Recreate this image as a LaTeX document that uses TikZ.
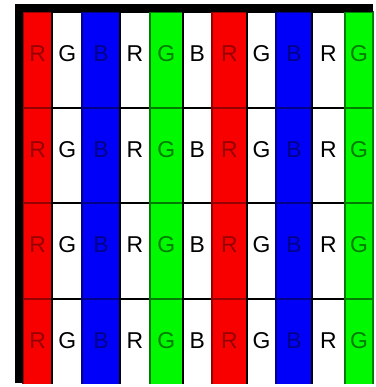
\documentclass[tikz,border=0pt]{standalone}
\usepackage{fontspec}
\setsansfont{Liberation Sans}
\usepackage{xcolor}
\definecolor{pixRed}{HTML}{F80000}
\definecolor{pixGreen}{HTML}{00F800}
\definecolor{pixBlue}{HTML}{0000F8}
\usepackage{tikz}
\usetikzlibrary{positioning}

\begin{document}
\begin{tikzpicture}[
  x=1bp,y=-1bp,
  font=\sffamily\fontsize{23}{25}\selectfont,
  cell/.style={line width=2bp,minimum height=95.5bp,inner sep=0pt,outer sep=0pt},
  letter/.style={inner sep=0pt},
  frame/.style={line width=8bp,black}
]
\useasboundingbox (0,0) rectangle (376,387);
\begin{scope}
  \clip (15,4) rectangle (376,383);
  % one stripe per sub-pixel column, four rows each
  \foreach \xl/\w/\col/\tint/\ch [count=\i] in {
      23/29.5/pixRed/pixRed!60!black/R, 52.5/29.5/white/black/G,
      82/38/pixBlue/pixBlue!55!black/B, 120/30/white/black/R,
      150/32.5/pixGreen/pixGreen!50!black/G, 182.5/29.5/white/black/B,
      212/35/pixRed/pixRed!60!black/R, 247/29/white/black/G,
      276/36/pixBlue/pixBlue!55!black/B, 312/33/white/black/R,
      345/28/pixGreen/pixGreen!50!black/G}
    \foreach \j in {0,...,3}{
      \node[cell,fill=\col,draw=\tint,minimum width=\w bp] (c\i-\j)
        at (\xl+\w/2, 59.75+95.5*\j) {};
      \node[letter,text=\tint] (l\i-\j) at ([yshift=6bp]c\i-\j.center) {\ch};
    }
\end{scope}
\draw[frame] (19,383) -- (19,8) -- (373,8);
\end{tikzpicture}
\end{document}
